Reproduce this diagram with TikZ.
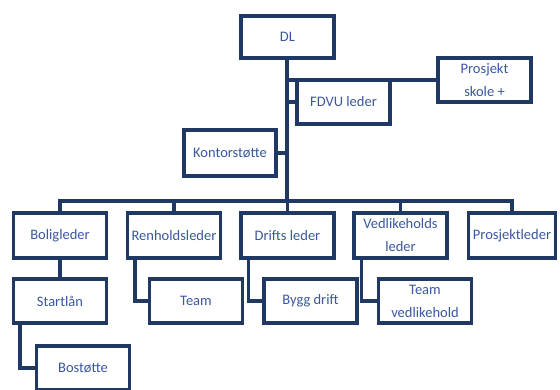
\documentclass[tikz,border=0pt]{standalone}
\usepackage{fontspec}
\setmainfont{Carlito}
\definecolor{navy}{RGB}{31,56,100}
\definecolor{txtblue}{RGB}{58,88,158}

\begin{document}
\begin{tikzpicture}[x=1pt, y=-1pt,
        box/.style={draw=navy, line width=3.5pt, fill=white, minimum width=93pt, minimum height=44pt,
            inner sep=0pt, align=center, text=txtblue, font=\fontsize{14.5}{23}\selectfont},
        link/.style={navy, line width=3.5pt}]
        \useasboundingbox (0,0) rectangle (560,389);

        % top
        \node[box, minimum height=42pt] (dl) at (287.5,37) {DL};
        \node[box] (fdvu) at (343.5,102) {FDVU leder};
        \node[box] (skole) at (484.5,80) {Prosjekt\\skole +};
        \node[box, minimum width=92pt, minimum height=46pt] (kontor) at (230,153) {Kontorstøtte};

        % leaders
        \node[box, minimum height=45pt] (bolig) at (60,235.5) {Boligleder};
        \node[box, minimum height=45pt] (renhold) at (174,235.5) {Renholdsleder};
        \node[box, minimum height=45pt] (drift) at (287.5,235.5) {Drifts leder};
        \node[box, minimum height=45pt] (vedlike) at (400.5,235.5) {Vedlikeholds\\leder};
        \node[box, minimum width=87pt, minimum height=45pt] (prosjl) at (512,235.5) {Prosjektleder};

        % teams
        \node[box] (startlan) at (60,301) {Startlån};
        \node[box] (team) at (196,301) {Team};
        \node[box] (bygg) at (310.5,301) {Bygg drift};
        \node[box] (teamv) at (425,301) {Team\\vedlikehold};
        \node[box] (bostotte) at (83,368) {Bostøtte};

        \coordinate (bus) at (287,201);
        \draw[link] (dl.south -| bus) -- (bus);
        \draw[link] (skole.west) -- (skole.west -| bus);
        \draw[link] (fdvu.west) -- (fdvu.west -| bus);
        \draw[link] (kontor.east) -- (kontor.east -| bus);
        \foreach \n in {bolig, renhold, drift, vedlike, prosjl}
            \draw[link] (\n.north) |- (bus);

        \draw[link] (bolig.south) -- (startlan.north);
        \draw[link] ([xshift=8pt]startlan.south west) |- (bostotte.west);
        \draw[link] ([xshift=9pt]renhold.south west) |- (team.west);
        \draw[link] ([xshift=9pt]drift.south west) |- (bygg.west);
        \draw[link] ([xshift=9pt]vedlike.south west) |- (teamv.west);

\end{tikzpicture}
\end{document}
